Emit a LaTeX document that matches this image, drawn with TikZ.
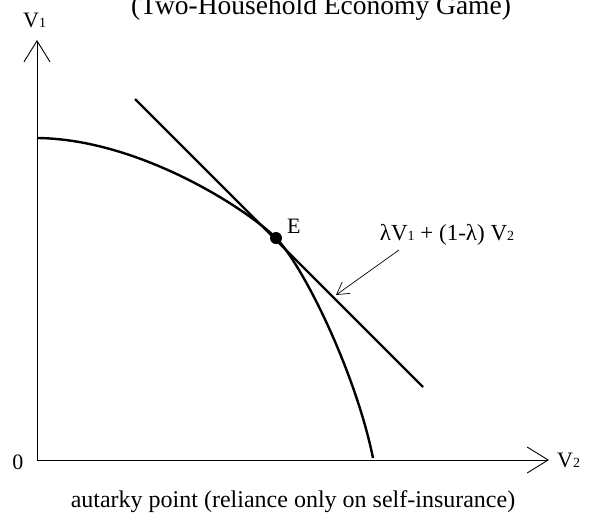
\documentclass[tikz,border=0pt]{standalone}
\usepackage{fontspec}
\setmainfont{Liberation Serif}
\usetikzlibrary{arrows.meta}
\newcommand{\sub}[1]{{\fontsize{14}{14}\selectfont #1}}
\begin{document}
\begin{tikzpicture}[x=1pt,y=-1pt,
  axis/.style={line width=0.9pt,-{Straight Barb[length=21pt,width=26pt,line width=0.9pt]}},
  thick curve/.style={line width=2.4pt},
  lbl/.style={font=\fontsize{22}{24}\selectfont, inner sep=0pt}]
\useasboundingbox (0,0) rectangle (590,520);
\coordinate (O) at (37,460);
\coordinate (Ytip) at (37,40);
\coordinate (Xtip) at (549,460);
\draw[axis] (O) -- (Ytip);
\draw[axis] (O) -- (Xtip);
\node[lbl,anchor=base west] (v1) at (23,27) {V\sub{1}};
\node[lbl,anchor=base west] (v2) at (557,467) {V\sub{2}};
\node[lbl] (zero) at (18,462) {0};
\node[lbl,anchor=base,font=\fontsize{27.5}{30}\selectfont] (title) at (321,14) {(Two-Household Economy Game)};
\node[lbl,anchor=base,font=\fontsize{24}{26}\selectfont] (bottom) at (293,507) {autarky point (reliance only on self-insurance)};
\coordinate (A) at (37,138);
\coordinate (E) at (276,238);
\coordinate (B) at (373,458);
\draw[thick curve] (A) .. controls (140,139) and (248,210) .. (E)
   .. controls (302,264) and (355,370) .. (B);
\coordinate (T1) at (135,99);
\coordinate (T2) at (423,387);
\draw[thick curve] (T1) -- (T2);
\fill (E) circle (6);
\node[lbl,anchor=base west] (elabel) at (287,233) {E};
\node[lbl,anchor=base,font=\fontsize{23}{25}\selectfont] (formula) at (447,240) {λV\sub{1} + (1-λ) V\sub{2}};
\coordinate (arrowstart) at (399,250);
\coordinate (arrowend) at (336,295);
\draw[line width=0.7pt,-{Straight Barb[length=12pt,width=14pt,line width=0.7pt]}] (arrowstart) -- (arrowend);
\end{tikzpicture}
\end{document}
